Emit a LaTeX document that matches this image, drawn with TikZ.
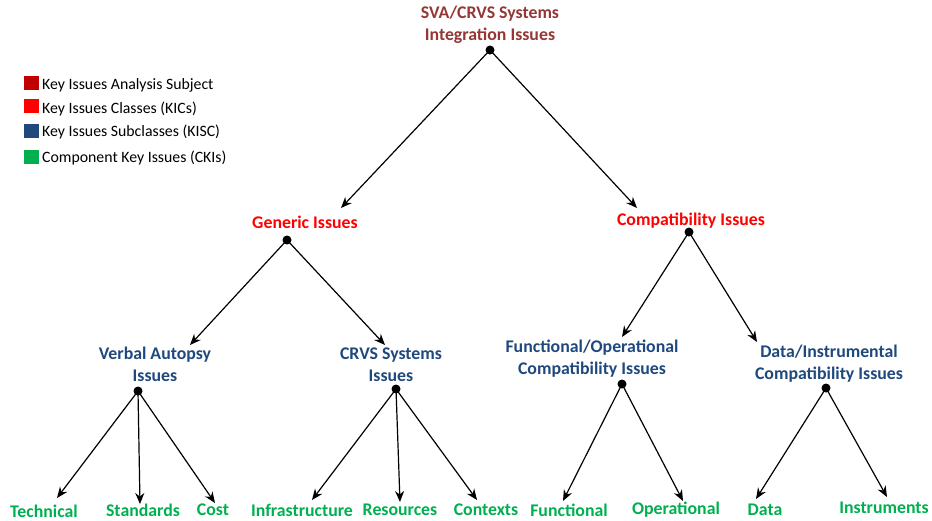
\documentclass[tikz,border=0pt]{standalone}
\usepackage{fontspec}
\setmainfont{Carlito}
\usetikzlibrary{arrows.meta}
\definecolor{rootc}{RGB}{149,55,53}
\definecolor{classc}{RGB}{255,0,0}
\definecolor{subc}{RGB}{31,73,125}
\definecolor{compc}{RGB}{0,176,80}
\definecolor{legroot}{RGB}{192,0,0}
\tikzset{
  lbl/.style={inner sep=0pt, align=center, font=\bfseries\fontsize{17.8}{22}\selectfont},
  rootlbl/.style={lbl, text=rootc},
  classlbl/.style={lbl, text=classc},
  sublbl/.style={lbl, text=subc},
  complbl/.style={lbl, text=compc},
  hub/.style={circle, fill=black, inner sep=0pt, minimum size=9pt},
  link/.style={draw=black, line width=1.2pt, -{Stealth[length=11pt,width=9pt]}},
  legsq/.style={minimum width=15pt, minimum height=14pt, inner sep=0pt},
  legtxt/.style={anchor=west, inner sep=0pt, font=\fontsize{15.8}{18}\selectfont, text=black}
}
\begin{document}
\begin{tikzpicture}[x=1pt,y=-1pt]
\useasboundingbox (0,0) rectangle (932,520);
% legend
\node[legsq, fill=legroot] (sq1) at (31,83) {};
\node[legtxt] (lg1) at (42,85) {Key Issues Analysis Subject};
\node[legsq, fill=classc] (sq2) at (31,106) {};
\node[legtxt] (lg2) at (42,109) {Key Issues Classes (KICs)};
\node[legsq, fill=subc] (sq3) at (31,131) {};
\node[legtxt] (lg3) at (42,132) {Key Issues Subclasses (KISC)};
\node[legsq, fill=compc] (sq4) at (31,157) {};
\node[legtxt] (lg4) at (42,158) {Component Key Issues (CKIs)};
% labels
\node[rootlbl] (root) at (490,25) {SVA/CRVS Systems\\Integration Issues};
\node[classlbl] (gen) at (305,222) {Generic Issues};
\node[classlbl] (comp) at (691,221) {Compatibility Issues};
\node[sublbl] (va) at (155,364) {Verbal Autopsy\\Issues};
\node[sublbl] (crvs) at (391,365) {CRVS Systems\\Issues};
\node[sublbl] (fo) at (592,359) {Functional/Operational\\Compatibility Issues};
\node[sublbl] (di) at (829,364) {Data/Instrumental\\Compatibility Issues};
\node[complbl] (tech) at (44,511) {Technical};
\node[complbl] (std) at (143,510) {Standards};
\node[complbl] (cost) at (213,510) {Cost};
\node[complbl] (infra) at (302,510) {Infrastructure};
\node[complbl] (res) at (400,510) {Resources};
\node[complbl] (ctx) at (486,510) {Contexts};
\node[complbl] (func) at (569,510) {Functional};
\node[complbl] (oper) at (676,510) {Operational};
\node[complbl] (data) at (765,510) {Data};
\node[complbl] (instr) at (884,508) {Instruments};
% hubs
\node[hub] (hroot) at (490,50) {};
\node[hub] (hgen) at (287,240) {};
\node[hub] (hcomp) at (689,232) {};
\node[hub] (hva) at (138,391) {};
\node[hub] (hcrvs) at (396,389) {};
\node[hub] (hfo) at (622,384) {};
\node[hub] (hdi) at (826,388) {};
% arrow tips
\coordinate (tgen) at (341,208);
\coordinate (tcomp) at (637,208);
\coordinate (tva) at (190,345);
\coordinate (tcrvs) at (385,345);
\coordinate (tfo) at (622,337);
\coordinate (tdi) at (757,342);
\coordinate (ttech) at (57,498);
\coordinate (tstd) at (140,504);
\coordinate (tcost) at (215,503);
\coordinate (tinfra) at (312,500);
\coordinate (tres) at (400,502);
\coordinate (tctx) at (477,500);
\coordinate (tfunc) at (563,501);
\coordinate (toper) at (683,501);
\coordinate (tdata) at (756,499);
\coordinate (tinstr) at (887,497);
% links
\draw[link] (hroot.center) -- (tgen);
\draw[link] (hroot.center) -- (tcomp);
\draw[link] (hgen.center) -- (tva);
\draw[link] (hgen.center) -- (tcrvs);
\draw[link] (hcomp.center) -- (tfo);
\draw[link] (hcomp.center) -- (tdi);
\draw[link] (hva.center) -- (ttech);
\draw[link] (hva.center) -- (tstd);
\draw[link] (hva.center) -- (tcost);
\draw[link] (hcrvs.center) -- (tinfra);
\draw[link] (hcrvs.center) -- (tres);
\draw[link] (hcrvs.center) -- (tctx);
\draw[link] (hfo.center) -- (tfunc);
\draw[link] (hfo.center) -- (toper);
\draw[link] (hdi.center) -- (tdata);
\draw[link] (hdi.center) -- (tinstr);
\end{tikzpicture}
\end{document}
